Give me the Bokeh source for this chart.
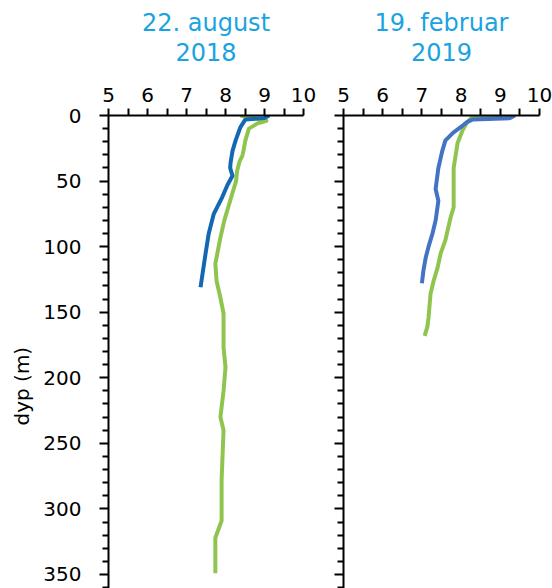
from bokeh.plotting import figure
from bokeh.layouts import row
from bokeh.models import Range1d, Title, FixedTicker
from bokeh.embed import file_html
from bokeh.resources import INLINE

# ---- data ----
titles = [("22. august", "2018"), ("19. februar", "2019")]

aug_blue_depth = [0, 2, 3, 9, 19, 27, 36, 40, 46, 53, 62, 75, 90, 105, 131]
aug_blue_temp = [9.12, 9.0, 8.51, 8.38, 8.26, 8.18, 8.13, 8.12, 8.18, 8.05, 7.92, 7.70, 7.57, 7.49, 7.36]

aug_green_depth = [0, 4, 6, 10, 19, 27, 31, 35, 42, 50, 62, 80, 93, 113, 126, 139, 151,
                   177, 192, 210, 230, 240, 263, 278, 309, 322, 349]
aug_green_temp = [8.38, 9.05, 8.82, 8.6, 8.51, 8.46, 8.43, 8.36, 8.3, 8.27, 8.15, 7.97, 7.87,
                  7.74, 7.77, 7.87, 7.95, 7.95, 8.0, 7.95, 7.87, 7.95, 7.92, 7.9, 7.9, 7.74, 7.74]

feb_blue_depth = [0, 2, 3, 5, 8, 13, 19, 27, 40, 56, 65, 80, 90, 100, 108, 118, 128]
feb_blue_temp = [9.37, 9.25, 8.3, 8.15, 8.03, 7.8, 7.6, 7.52, 7.42, 7.35, 7.42, 7.35, 7.27,
                 7.17, 7.1, 7.04, 7.0]

feb_green_depth = [0, 0.5, 5, 11, 21, 40, 70, 78, 95, 105, 116, 126, 136, 154, 161, 168]
feb_green_temp = [9.05, 8.3, 8.16, 8.04, 7.91, 7.81, 7.81, 7.73, 7.6, 7.48, 7.4, 7.3, 7.22,
                  7.17, 7.14, 7.07]

x_ticks = [5, 6, 7, 8, 9, 10]
x_minor = [5.5, 6.5, 7.5, 8.5, 9.5]
y_ticks = [0, 50, 100, 150, 200, 250, 300, 350]
y_minor = [d for d in range(0, 361, 10) if d % 50 != 0]
y_label = "dyp (m)"

FONT = "DejaVu Sans"
TITLE_COLOR = "#1aa3df"
BLUE1 = "#1268b3"
BLUE2 = "#4472c4"
GREEN = "#8fc54f"


def make_panel(width, left_border, right_border, title_pair, show_labels):
    p = figure(width=width, height=588, output_backend="svg", toolbar_location=None,
               x_range=Range1d(5, 10), y_range=Range1d(360.7, 0),
               x_axis_location="above", min_border_left=left_border,
               min_border_right=right_border, min_border_top=115, min_border_bottom=0)
    p.outline_line_color = None
    p.grid.visible = False
    p.background_fill_color = "white"
    p.border_fill_color = "white"

    xa = p.xaxis[0]
    xa.ticker = FixedTicker(ticks=x_ticks, minor_ticks=x_minor)
    xa.major_tick_in = 0
    xa.major_tick_out = 7
    xa.minor_tick_in = 0
    xa.minor_tick_out = 7
    xa.axis_line_width = 2
    xa.major_tick_line_width = 2
    xa.minor_tick_line_width = 2
    xa.major_label_text_font = FONT
    xa.major_label_text_font_size = "20px"
    xa.major_label_text_color = "black"
    xa.major_label_standoff = 7

    ya = p.yaxis[0]
    ya.ticker = FixedTicker(ticks=y_ticks, minor_ticks=y_minor)
    ya.major_tick_in = 0
    ya.major_tick_out = 9
    ya.minor_tick_in = 0
    ya.minor_tick_out = 6
    ya.axis_line_width = 2
    ya.major_tick_line_width = 2
    ya.minor_tick_line_width = 2
    ya.major_label_text_font = FONT
    ya.major_label_text_font_size = "20px"
    ya.major_label_text_color = "black"
    ya.major_label_standoff = 18
    if show_labels:
        p.add_layout(Title(text=y_label, align="left", offset=163, standoff=14,
                           text_font=FONT, text_font_size="20px", text_font_style="normal",
                           text_color="black"), "left")
    else:
        ya.major_label_overrides = {t: "" for t in y_ticks}

    line1, line2 = title_pair
    p.add_layout(Title(text=line2, align="center", text_font=FONT, text_font_size="24px",
                       text_font_style="normal", text_color=TITLE_COLOR, standoff=48), "above")
    p.add_layout(Title(text=line1, align="center", text_font=FONT, text_font_size="24px",
                       text_font_style="normal", text_color=TITLE_COLOR, standoff=-40), "above")
    return p


p1 = make_panel(323, 108, 20, titles[0], True)
p1.line(aug_green_temp, aug_green_depth, line_color=GREEN, line_width=4, line_join="round")
p1.line(aug_blue_temp, aug_blue_depth, line_color=BLUE1, line_width=4, line_join="round")

p2 = make_panel(229, 20, 13, titles[1], False)
p2.line(feb_green_temp, feb_green_depth, line_color=GREEN, line_width=4, line_join="round")
p2.line(feb_blue_temp, feb_blue_depth, line_color=BLUE2, line_width=4, line_join="round")

layout = row(p1, p2)
open("out.html", "w").write(file_html(layout, INLINE))
